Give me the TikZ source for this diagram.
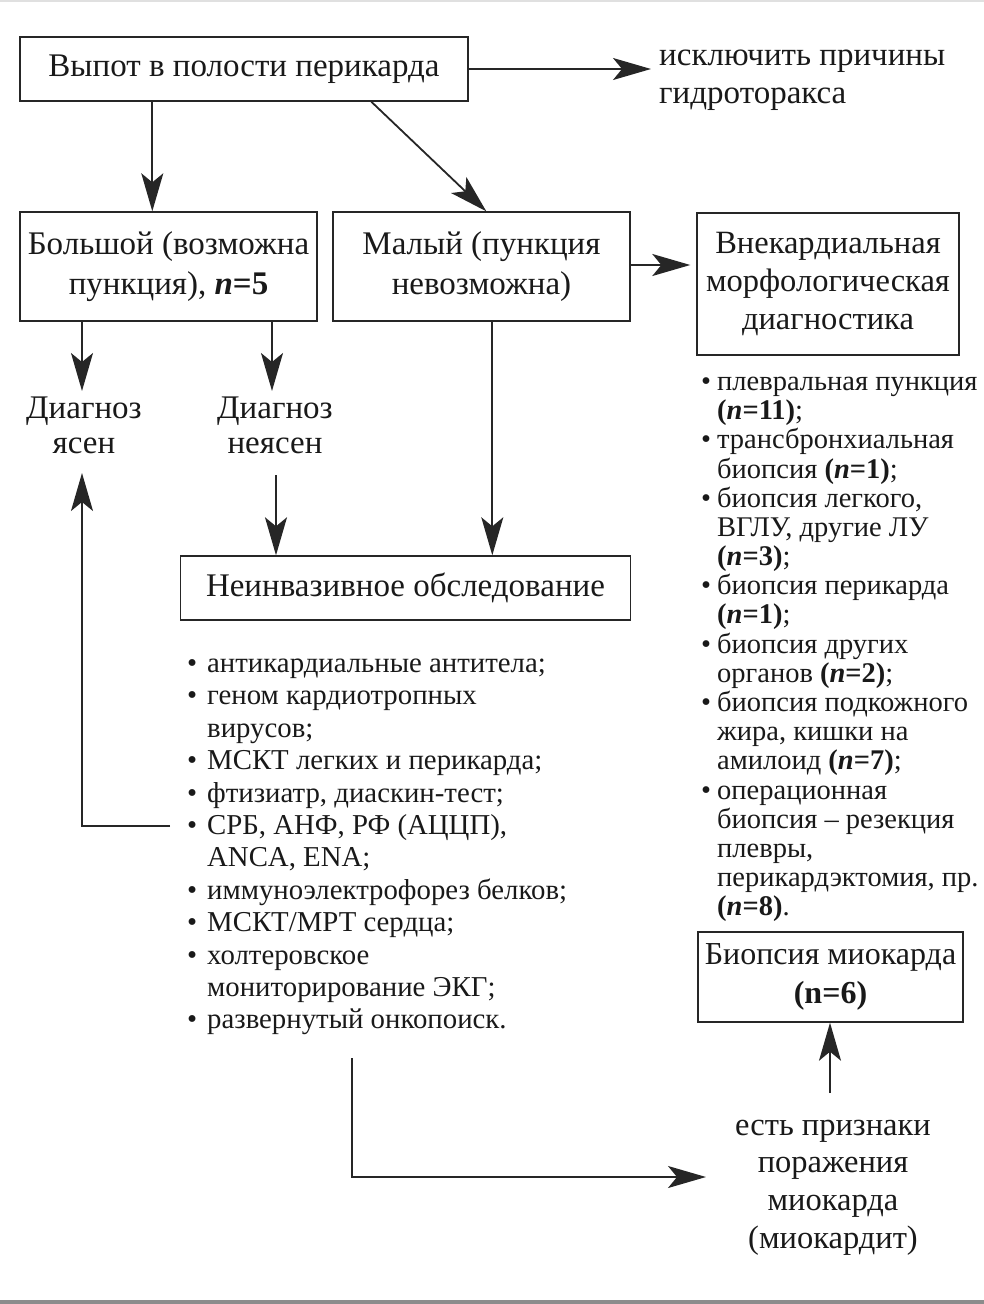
\documentclass[tikz,border=0pt]{standalone}
\usepackage{fontspec}
\setmainfont{Liberation Serif}
\usetikzlibrary{arrows.meta}
\newcommand\lbul{\makebox[20pt][l]{\textbullet}}
\newcommand\lind{\hspace*{20pt}}
\newcommand\rbul{\makebox[16pt][l]{\textbullet}}
\newcommand\rind{\hspace*{16pt}}
\newcommand\nb[1]{\textbf{(\textit{n}=#1)}}
\begin{document}
\begin{tikzpicture}[x=1pt,y=-1pt,
  box/.style={draw=black!85, line width=1.4pt, inner sep=0pt, align=center, text=black!90},
  lbl/.style={inner sep=0pt, text=black!90},
  arr/.style={draw=black!85, line width=1.8pt, -{Stealth[length=38pt,width=22pt,inset=9pt]}},
  line/.style={draw=black!85, line width=1.8pt}]
\useasboundingbox (0,0) rectangle (984,1304);
\fill[black!12] (0,0) rectangle (984,2);
\fill[black!45] (0,1300) rectangle (984,1304);

% boxes
\node[box, minimum width=448, minimum height=64, font=\fontsize{33}{38}\selectfont] (b1) at (244,69) {Выпот в полости перикарда};
\node[box, minimum width=297, minimum height=109, font=\fontsize{33}{40}\selectfont] (b2) at (168.5,266.5)
  {Большой (возможна\\пункция), \textbf{\textit{n}=5}};
\node[box, minimum width=297, minimum height=109, font=\fontsize{33}{40}\selectfont] (b3) at (481.5,266.5)
  {Малый (пункция\\невозможна)};
\node[box, minimum width=262, minimum height=142, font=\fontsize{32.5}{38}\selectfont] (b4) at (828,284)
  {Внекардиальная\\морфологическая\\диагностика};
\node[box, minimum width=450, minimum height=64, font=\fontsize{33}{38}\selectfont] (b5) at (405.5,588) {Неинвазивное обследование};
\node[box, minimum width=265, minimum height=90, font=\fontsize{32}{39}\selectfont] (b6) at (830.5,977)
  {Биопсия миокарда\\\textbf{(n=6)}};

% free labels
\node[lbl, anchor=west, align=left, font=\fontsize{33}{38}\selectfont] (excl) at (659,80)
  {исключить причины\\гидроторакса};
\node[lbl, align=center, font=\fontsize{33}{35}\selectfont] (d1) at (84,425) {Диагноз\\ясен};
\node[lbl, align=center, font=\fontsize{33}{35}\selectfont] (d2) at (275,425) {Диагноз\\неясен};
\node[lbl, align=center, font=\fontsize{32.5}{37.7}\selectfont] (sign) at (833,1187.5)
  {есть признаки\\поражения\\миокарда\\(миокардит)};

% lists
\node[lbl, anchor=north west, align=left, font=\fontsize{28.8}{32.4}\selectfont] (llist) at (187,649.7)
  {\strut\lbul антикардиальные антитела;\\
   \lbul геном кардиотропных\\
   \lind вирусов;\\
   \lbul МСКТ легких и перикарда;\\
   \lbul фтизиатр, диаскин-тест;\\
   \lbul СРБ, АНФ, РФ (АЦЦП),\\
   \lind ANCA, ENA;\\
   \lbul иммуноэлектрофорез белков;\\
   \lbul МСКТ/МРТ сердца;\\
   \lbul холтеровское\\
   \lind мониторирование ЭКГ;\\
   \lbul развернутый онкопоиск.};
\node[lbl, anchor=north west, align=left, font=\fontsize{28.5}{29.17}\selectfont] (rlist) at (701,370)
  {\strut\rbul плевральная пункция\\
   \rind\nb{11};\\
   \rbul трансбронхиальная\\
   \rind биопсия \nb{1};\\
   \rbul биопсия легкого,\\
   \rind ВГЛУ, другие ЛУ\\
   \rind\nb{3};\\
   \rbul биопсия перикарда\\
   \rind\nb{1};\\
   \rbul биопсия других\\
   \rind органов \nb{2};\\
   \rbul биопсия подкожного\\
   \rind жира, кишки на\\
   \rind амилоид \nb{7};\\
   \rbul операционная\\
   \rind биопсия -- резекция\\
   \rind плевры,\\
   \rind перикардэктомия, пр.\\
   \rind\nb{8}.};

% helper coordinates
\coordinate (d1tip) at (82,391);
\coordinate (d2tip) at (272,391);
\coordinate (d2tail) at (276,475);
\coordinate (d1up) at (82,473);
\coordinate (crb) at (170,826);
\coordinate (bstart) at (352,1058);
\coordinate (bend) at (706,1177);
\coordinate (signtail) at (830,1093);

% connectors
\draw[arr] (b1.east) -- ([xshift=-8]b1.east -| excl.west);
\draw[arr] ([xshift=133]b1.south west) -- ([xshift=133]b2.north west);
\draw[arr] ([xshift=352]b1.south west) -- ([xshift=154]b3.north west);
\draw[arr] (b3.east |- 0,265) -- ([xshift=-6]b4.west |- 0,265);
\draw[arr] (b2.south -| d1tip) -- (d1tip);
\draw[arr] (b2.south -| d2tip) -- (d2tip);
\draw[arr] (d2tail) -- (d2tail |- b5.north);
\draw[arr] ([xshift=160]b3.south west) -- ([xshift=160]b3.south west |- b5.north);
\draw[arr] (crb) -| (d1up);
\draw[arr] (bstart) |- (bend);
\draw[arr] (signtail) -- (signtail |- b6.south);
\end{tikzpicture}
\end{document}
